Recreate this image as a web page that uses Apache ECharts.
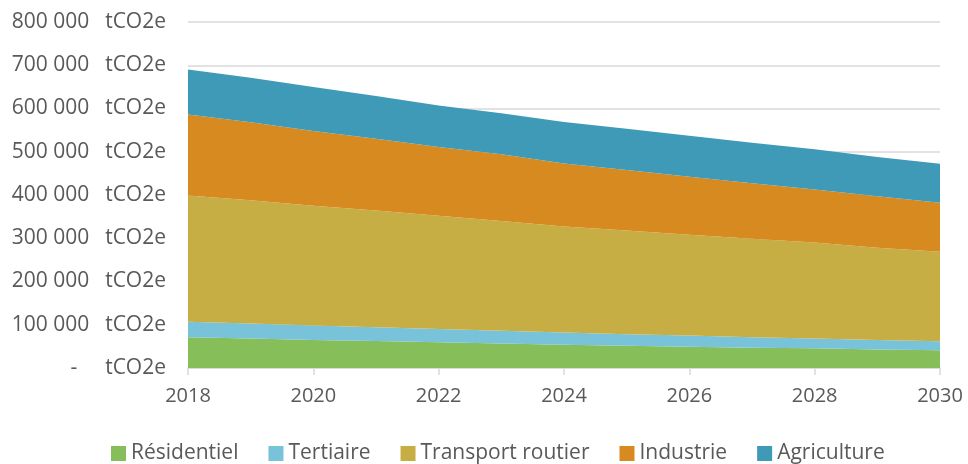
<!DOCTYPE html>
<html>
<head>
<meta charset="utf-8">
<script src="https://cdn.jsdelivr.net/npm/echarts@6/dist/echarts.min.js"></script>
<style>
  html, body { margin: 0; padding: 0; background: #fff; }
  #container { width: 968px; height: 464px; }
</style>
</head>
<body>
<div id="container"></div>
<script>
// données (tCO2e)
var years = ['2018', '2019', '2020', '2021', '2022', '2023', '2024', '2025', '2026', '2027', '2028', '2029', '2030'];
var residentiel = [71000, 68000, 65000, 62500, 59500, 56500, 54000, 51500, 49000, 47000, 45500, 43000, 41000];
var tertiaire = [36000, 35000, 33000, 31500, 30500, 29500, 28000, 26500, 26000, 24000, 22500, 22000, 21000];
var transport = [292000, 285000, 277000, 270000, 262000, 254000, 245000, 240000, 233000, 228000, 222000, 213000, 207000];
var industrie = [187000, 180000, 173000, 166000, 159000, 154000, 146000, 140000, 134000, 128000, 123000, 119000, 113000];
var agriculture = [104000, 103000, 102000, 99000, 96000, 95000, 96000, 95000, 95000, 94000, 93000, 91000, 90000];

var names = ['Résidentiel', 'Tertiaire', 'Transport routier', 'Industrie', 'Agriculture'];
var colors = ['#86be5a', '#78c2da', '#c7ae44', '#d68a20', '#3f9ab8'];
var values = [residentiel, tertiaire, transport, industrie, agriculture];

var textColor = '#595959';
var font = '"Open Sans", "Noto Sans", sans-serif';

// format "800 000"
function fmt(v) {
    return String(v).replace(/\B(?=(\d{3})+(?!\d))/g, ' ');
}

var series = [];
for (var i = 0; i < names.length; i++) {
    series.push({
        name: names[i],
        type: 'line',
        stack: 'total',
        data: values[i],
        showSymbol: false,
        symbol: 'none',
        lineStyle: { width: 0 },
        areaStyle: { color: colors[i], opacity: 1 },
        itemStyle: { color: colors[i] }
    });
}

var dom = document.getElementById("container");
var myChart = echarts.init(dom);
var option = {
    animation: false,
    textStyle: { fontFamily: font },
    grid: { left: 188, right: 28, top: 22, bottom: 96 },
    legend: {
        data: names,
        top: 438,
        left: 106,
        icon: 'rect',
        itemWidth: 15,
        itemHeight: 15,
        itemGap: 30,
        textStyle: { color: textColor, fontSize: 21, fontFamily: font }
    },
    xAxis: {
        type: 'category',
        data: years,
        boundaryGap: false,
        axisLine: { lineStyle: { color: '#d9d9d9', width: 1.5 } },
        axisTick: { interval: 1, length: 7, lineStyle: { color: '#d9d9d9', width: 1.5 } },
        axisLabel: { interval: 1, color: textColor, fontSize: 20, margin: 18, fontFamily: font },
        splitLine: { show: false }
    },
    yAxis: {
        type: 'value',
        min: 0,
        max: 800000,
        interval: 100000,
        axisLine: { show: false },
        axisTick: { show: false },
        splitLine: { lineStyle: { color: '#d9d9d9', width: 1.5 } },
        axisLabel: {
            margin: 22,
            color: textColor,
            fontSize: 21,
            fontFamily: font,
            formatter: function (v) {
                if (v === 0) return '{z|-}{u0|tCO2e}';
                return '{n|' + fmt(v) + '}{u|tCO2e}';
            },
            rich: {
                n: { width: 79, align: 'right', color: textColor, fontSize: 21, fontFamily: font },
                z: { width: 67, align: 'right', color: textColor, fontSize: 21, fontFamily: font },
                u: { padding: [0, 0, 0, 16], color: textColor, fontSize: 21, fontFamily: font },
                u0: { padding: [0, 0, 0, 28], color: textColor, fontSize: 21, fontFamily: font }
            }
        }
    },
    series: series
};

if (option && typeof option === 'object') {
    myChart.setOption(option);
}
</script>
</body>
</html>
